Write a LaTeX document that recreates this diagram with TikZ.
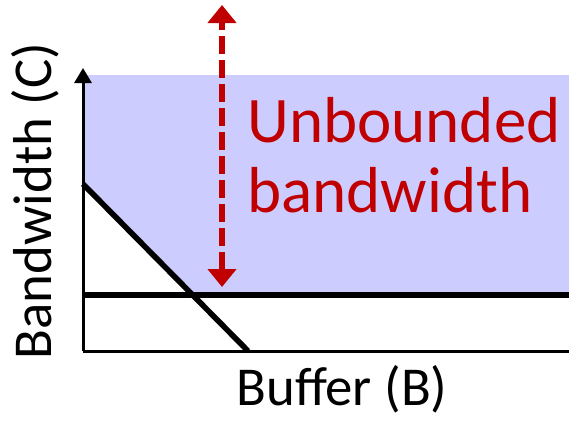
\documentclass[tikz,border=0pt]{standalone}
\usepackage{fontspec}
\setmainfont{Carlito}
\usepackage{xcolor}
\usetikzlibrary{arrows.meta}
\usetikzlibrary{positioning}
\definecolor{unbred}{RGB}{192,0,0}
\definecolor{regionblue}{RGB}{204,204,255}
\tikzset{
    axisline/.style = {line width=1.5pt, draw=black},
    limitline/.style = {line width=2.8pt, draw=black},
    rangearrow/.style = {line width=3pt, draw=unbred, dash pattern=on 9pt off 3pt, {Triangle[width=14pt,length=9pt]}-{Triangle[width=14pt,length=9pt]}},
    axislabel/.style = {font=\fontsize{27.4}{30}\selectfont, inner sep=0pt},
    bigtext/.style = {font=\fontsize{32.5}{35}\selectfont, text=unbred, align=left, inner sep=0pt},
}

\begin{document}
\begin{tikzpicture}[x=0.5pt, y=-0.5pt]
  \useasboundingbox (0,0) rectangle (569,423);
  \coordinate (origin) at (83,351);
  \coordinate (ytop) at (83,68);
  \coordinate (xend) at (569,351);
  \coordinate (bufstart) at (83,295);
  \coordinate (bufend) at (569,295);
  \coordinate (bwstart) at (83,184);
  \coordinate (bwend) at (248,351);
  \coordinate (cross) at (194,295);
  \coordinate (rtop) at (222,5);
  \coordinate (rbot) at (222,287);
  % region above both limits
  \fill[regionblue] (83,75) -- (569,75) -- (bufend) -- (cross) -- (bwstart) -- cycle;
  % axes
  \draw[axisline, -{Triangle[width=8.5pt,length=7.5pt]}] (origin) -- (ytop);
  \draw[axisline] (origin) -- (xend);
  % limits
  \draw[limitline] (bufstart) -- (bufend);
  \draw[limitline] (bwstart) -- (bwend);
  \draw[rangearrow] (rbot) -- (rtop);
  % labels
  \node[bigtext, anchor=north west] (unb) at (247,97) {Unbounded\\bandwidth};
  \node[axislabel, anchor=base] (xlab) at (342,405) {Buffer (B)};
  \node[axislabel, anchor=base, rotate=90] (ylab) at (51,201) {Bandwidth (C)};
\end{tikzpicture}
\end{document}
